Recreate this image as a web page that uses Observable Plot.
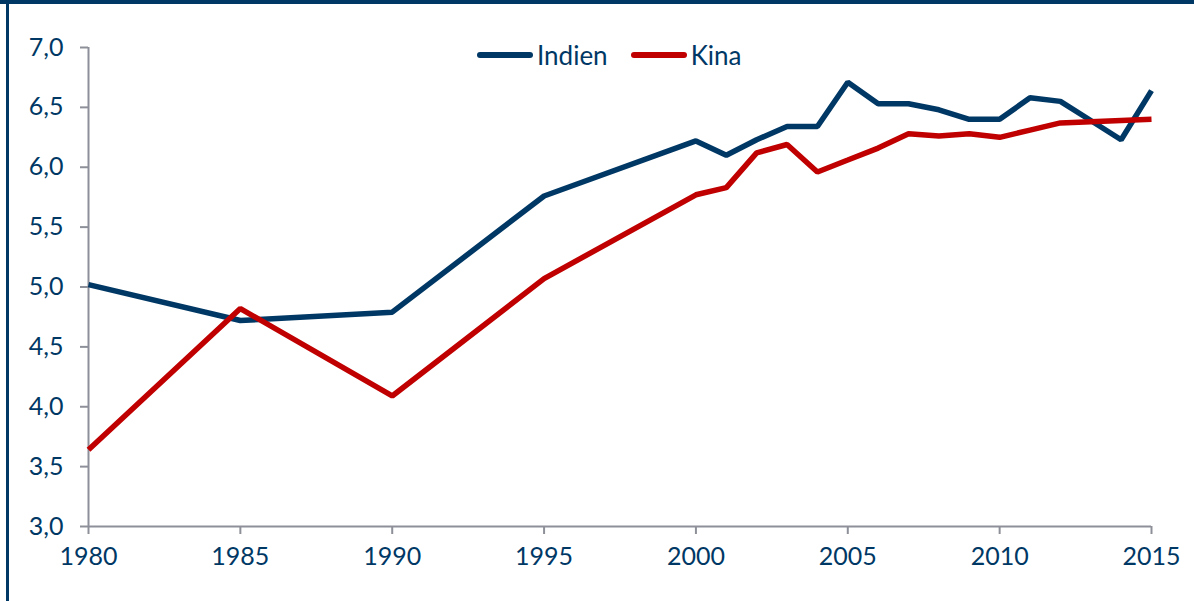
<!DOCTYPE html>
<html>
<head>
<meta charset="utf-8">
<script src="https://cdn.jsdelivr.net/npm/d3@7"></script>
<script src="https://cdn.jsdelivr.net/npm/@observablehq/plot@0.6"></script>
<style>
  html, body { margin: 0; padding: 0; background: #fff; }
  #wrap { position: relative; width: 1194px; height: 601px; overflow: hidden; font-family: Lato, sans-serif; }
  #topband { position: absolute; left: 0; top: 0; width: 1194px; height: 4px; background: #003865; }
  #leftband { position: absolute; left: 6px; top: 0; width: 3px; height: 601px; background: #003865; }
  #legend { position: absolute; left: 477px; top: 39px; display: flex; align-items: center; font-size: 26px; color: #003865; }
  #legend .item { display: flex; align-items: center; margin-right: 23px; }
  #legend .sw { display: inline-block; width: 56px; height: 6px; border-radius: 3px; margin-right: 4px; }
</style>
</head>
<body>
<div id="wrap">
  <div id="chart"></div>
  <div id="topband"></div>
  <div id="leftband"></div>
  <div id="legend"></div>
</div>
<script>
const years = [1980, 1985, 1990, 1995, 2000, 2001, 2002, 2003, 2004, 2005, 2006, 2007, 2008, 2009, 2010, 2011, 2012, 2013, 2014, 2015];
const indien = [5.02, 4.72, 4.79, 5.76, 6.22, 6.10, 6.23, 6.34, 6.34, 6.71, 6.53, 6.53, 6.48, 6.40, 6.40, 6.58, 6.55, 6.39, 6.23, 6.64];
const kina   = [3.64, 4.82, 4.09, 5.07, 5.77, 5.83, 6.12, 6.19, 5.96, 6.06, 6.16, 6.28, 6.26, 6.28, 6.25, 6.31, 6.37, 6.38, 6.39, 6.40];
const seriesNames = ["Indien", "Kina"];
const seriesColors = ["#003865", "#C00000"];
const xTicks = [1980, 1985, 1990, 1995, 2000, 2005, 2010, 2015];
const yTicks = [3.0, 3.5, 4.0, 4.5, 5.0, 5.5, 6.0, 6.5, 7.0];

const rows = [];
years.forEach((y, i) => {
  rows.push({year: y, value: indien[i], series: seriesNames[0]});
  rows.push({year: y, value: kina[i], series: seriesNames[1]});
});

const axisGray = "#8e9099";
const textColor = "#003865";

const plot = Plot.plot({
  width: 1194,
  height: 601,
  marginLeft: 88,
  marginRight: 43,
  marginTop: 47,
  marginBottom: 75,
  style: { fontFamily: "Lato, sans-serif", fontSize: "25px", color: textColor, background: "transparent" },
  x: { domain: [1980, 2015] },
  y: { domain: [3, 7] },
  color: { domain: seriesNames, range: seriesColors },
  marks: [
    Plot.axisX({ ticks: xTicks, tickFormat: d3.format("d"), tickSize: 8, tickPadding: 13, stroke: axisGray, strokeWidth: 2, fill: textColor, label: null, strokeOpacity: 1 }),
    Plot.axisY({ ticks: yTicks, tickFormat: d => d.toFixed(1).replace(".", ","), tickSize: 8, tickPadding: 17, stroke: axisGray, strokeWidth: 2, fill: textColor, label: null, strokeOpacity: 1 }),
    Plot.ruleY([3], { stroke: axisGray, strokeWidth: 2 }),
    Plot.ruleX([1980], { stroke: axisGray, strokeWidth: 2 }),
    Plot.line(rows, { x: "year", y: "value", z: "series", stroke: "series", strokeWidth: 5.5, strokeLinejoin: "miter", strokeLinecap: "butt" })
  ]
});
document.getElementById("chart").appendChild(plot);

const legend = document.getElementById("legend");
seriesNames.forEach((name, i) => {
  const item = document.createElement("span");
  item.className = "item";
  const sw = document.createElement("span");
  sw.className = "sw";
  sw.style.background = seriesColors[i];
  item.appendChild(sw);
  item.appendChild(document.createTextNode(name));
  legend.appendChild(item);
});
</script>
</body>
</html>
